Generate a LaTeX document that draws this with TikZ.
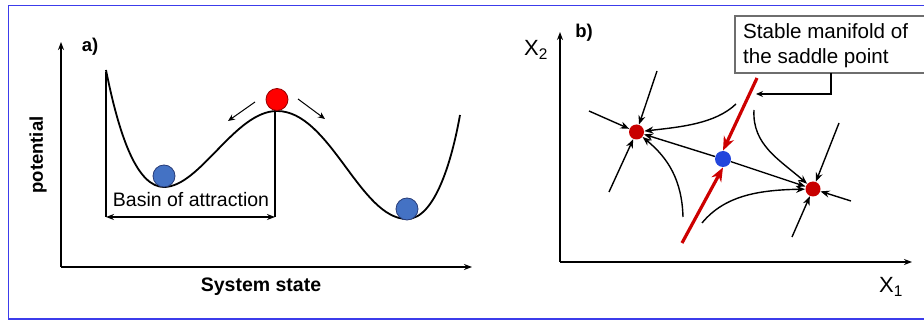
\documentclass[tikz,border=0pt]{standalone}
\usepackage{fontspec}
\setmainfont{Liberation Sans}
\usetikzlibrary{arrows.meta}
\definecolor{frameblue}{RGB}{60,60,235}
\definecolor{ballblue}{RGB}{68,114,196}
\definecolor{ballblueline}{RGB}{40,60,120}
\definecolor{ballred}{RGB}{255,0,0}
\definecolor{ballredline}{RGB}{150,0,0}
\definecolor{dotred}{RGB}{200,0,0}
\definecolor{dotblue}{RGB}{35,70,220}
\definecolor{mfred}{RGB}{205,0,0}
\definecolor{boxgrey}{RGB}{110,110,110}
\tikzset{
  axis/.style={line width=1.8pt,-{Stealth[length=8pt,width=6pt]}},
  curve/.style={line width=1.8pt},
  flow/.style={line width=1.4pt,-{Stealth[length=9pt,width=7pt]}},
  small/.style={line width=1pt,-{Stealth[length=7pt,width=6pt]}},
  manifold/.style={mfred,line width=3.2pt,-{Stealth[length=14pt,width=11pt]}},
  ball/.style={circle,inner sep=0pt,minimum size=#1,line width=0.8pt},
  lbl/.style={inner sep=0pt,font=\fontsize{18.5}{20}\selectfont\bfseries},
}
\begin{document}
\begin{tikzpicture}[x=1pt,y=-1pt]
\useasboundingbox (0,0) rectangle (924,320);
% frame
\draw[frameblue,line width=1.5pt] (924,5.5) -- (8.5,5.5) -- (8.5,319) -- (924,319);

% ---------- panel a ----------
\coordinate (ao) at (61,267);
\coordinate (ay) at (61,42);
\coordinate (ax) at (472,267);
\draw[axis] (ao) -- (ay);
\draw[axis] (ao) -- (ax);
\node[lbl] (alab) at (90,47) {a)};
\node[lbl,rotate=90] (pot) at (38,155) {potential};
\node[lbl,font=\fontsize{19.5}{22}\selectfont\bfseries] (sys) at (261,287) {System state};

\draw[curve] (106,70) .. controls (120,140) and (138,187) .. (164,187)
  .. controls (200,187) and (235,111) .. (277,111)
  .. controls (330,111) and (360,219) .. (407,219)
  .. controls (435,219) and (452,160) .. (460,115);

\coordinate (bl) at (106,72);
\coordinate (blb) at (106,217);
\coordinate (br) at (275,111);
\coordinate (brb) at (275,217);
\draw[line width=1.6pt] (bl) -- (blb);
\draw[line width=1.6pt] (br) -- (brb);
\draw[line width=1.4pt,{Stealth[length=8pt,width=6pt]}-{Stealth[length=8pt,width=6pt]}] (blb) -- (brb);
\node[inner sep=0pt,font=\fontsize{19.5}{22}\selectfont] (basin) at (191,200) {Basin of attraction};

\node[ball=22pt,fill=ballblue,draw=ballblueline] (b1) at (164,176) {};
\node[ball=22pt,fill=ballred,draw=ballredline] (r1) at (277,99.5) {};
\node[ball=22pt,fill=ballblue,draw=ballblueline] (b2) at (407,209) {};

\coordinate (la0) at (255,102);
\coordinate (la1) at (228,121);
\coordinate (ra0) at (298,99);
\coordinate (ra1) at (325,119);
\draw[small] (la0) -- (la1);
\draw[small] (ra0) -- (ra1);

% ---------- panel b ----------
\coordinate (bo) at (560,262);
\coordinate (by) at (560,32);
\coordinate (bx) at (912,262);
\draw[axis] (bo) -- (by);
\draw[axis] (bo) -- (bx);
\node[inner sep=0pt,font=\fontsize{22}{24}\selectfont] (x2) at (536,50) {X\textsubscript{2}};
\node[inner sep=0pt,font=\fontsize{22}{24}\selectfont] (x1) at (891,287) {X\textsubscript{1}};
\node[lbl] (blab) at (584,33) {b)};

% callout box
\draw[boxgrey,line width=1.2pt,fill=white] (930,16) -- (735,16) -- (735,73) -- (930,73);
\node[anchor=north west,inner sep=0pt,align=left,font=\fontsize{20.6}{25}\selectfont] (box) at (743,23)
  {Stable manifold of\\the saddle point};
\coordinate (cb) at (831,73);
\coordinate (cc) at (831,94);
\coordinate (ct) at (756,94);
\draw[line width=1.2pt,-{Stealth[length=7pt,width=6pt]}] (cb) -- (cc) -- (ct);

% fixed points
\node[ball=15pt,fill=dotred,draw=none] (A) at (636.5,132) {};
\node[ball=16pt,fill=dotblue,draw=none] (S) at (723,159) {};
\node[ball=15pt,fill=dotred,draw=none] (B) at (813,189) {};

% saddle outflows
\draw[flow] (S) -- (A);
\draw[flow] (S) -- (B);

% stable manifold (red)
\coordinate (m1) at (757,78);
\coordinate (m2) at (682,243);
\draw[manifold] (m1) -- (S.north);
\draw[manifold] (m2) -- (S.south);

% curved flows
\coordinate (c1) at (736,104);
\coordinate (c2) at (683,217);
\coordinate (c3) at (754,110);
\coordinate (c4) at (702,223);
\draw[flow] (c1) .. controls (715,124) and (680,127) .. (A);
\draw[flow] (c2) .. controls (682,180) and (668,158) .. (A);
\draw[flow] (c3) .. controls (752,145) and (780,160) .. (B);
\draw[flow] (c4) .. controls (725,195) and (760,190) .. (B);

% straight inflows
\coordinate (a1) at (657,71);
\coordinate (a2) at (589,111);
\coordinate (a3) at (609,192);
\coordinate (b1s) at (839,123);
\coordinate (b2s) at (851,201);
\coordinate (b3s) at (792,237);
\draw[flow] (a1) -- (A);
\draw[flow] (a2) -- (A);
\draw[flow] (a3) -- (A);
\draw[flow] (b1s) -- (B);
\draw[flow] (b2s) -- (B);
\draw[flow] (b3s) -- (B);
\end{tikzpicture}
\end{document}
